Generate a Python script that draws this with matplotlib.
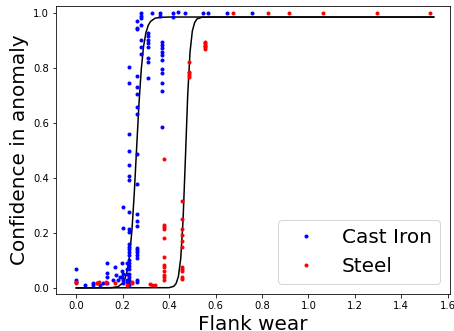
import matplotlib
matplotlib.use("Agg")
import matplotlib.pyplot as plt

# cast iron samples: flank wear vs anomaly confidence
ci_wear = [0.0, 0.0, 0.0, 0.037, 0.072, 0.072, 0.088, 0.102, 0.116,
           0.131, 0.131, 0.131, 0.131, 0.159, 0.167, 0.171, 0.181, 0.188,
           0.196, 0.196, 0.196, 0.2, 0.2, 0.203, 0.203, 0.203,
           0.217, 0.217, 0.217, 0.217, 0.217,
           0.228, 0.228, 0.228, 0.228, 0.228, 0.228, 0.228, 0.228, 0.228,
           0.228, 0.228, 0.228, 0.228, 0.228, 0.228, 0.228, 0.228, 0.228,
           0.228, 0.228, 0.228, 0.228, 0.228, 0.228,
           0.26, 0.26, 0.26, 0.26, 0.26, 0.26, 0.26, 0.26, 0.26, 0.26,
           0.26, 0.26, 0.26, 0.26, 0.26, 0.26, 0.26, 0.26, 0.26, 0.26,
           0.279, 0.279, 0.279, 0.279, 0.279, 0.279, 0.279,
           0.31, 0.31, 0.31, 0.31, 0.31, 0.31, 0.31, 0.31,
           0.328, 0.361, 0.361,
           0.368, 0.368, 0.368, 0.368, 0.368, 0.368, 0.368, 0.368, 0.368,
           0.368, 0.368,
           0.418, 0.418, 0.44, 0.469, 0.546, 0.569, 0.648, 0.756]
ci_conf = [0.07, 0.029, 0.02, 0.011, 0.011, 0.017, 0.017, 0.012, 0.017,
           0.092, 0.053, 0.041, 0.017, 0.029, 0.077, 0.047, 0.029, 0.041,
           0.092, 0.063, 0.04, 0.296, 0.217, 0.05, 0.03, 0.017,
           0.09, 0.07, 0.05, 0.03, 0.02,
           0.803, 0.745, 0.56, 0.499, 0.447, 0.407, 0.393, 0.275, 0.213,
           0.204, 0.16, 0.15, 0.14, 0.13, 0.12, 0.1, 0.09, 0.08,
           0.07, 0.05, 0.04, 0.03, 0.02, 0.01,
           0.971, 0.945, 0.94, 0.771, 0.73, 0.704, 0.657, 0.633, 0.486,
           0.378, 0.268, 0.244, 0.227, 0.145, 0.138, 0.13, 0.12, 0.11,
           0.03, 0.02,
           1.0, 0.989, 0.982, 0.956, 0.9, 0.875, 0.851,
           0.927, 0.916, 0.902, 0.891, 0.876, 0.836, 0.822, 0.765,
           1.0, 1.0, 0.989,
           0.895, 0.884, 0.873, 0.858, 0.847, 0.827, 0.796, 0.783, 0.745,
           0.716, 0.584,
           1.0, 0.984, 1.005, 1.0, 1.0, 1.0, 1.0, 1.0]

# steel samples
st_wear = [0.0, 0.0, 0.088, 0.1, 0.127, 0.127, 0.167, 0.217, 0.239, 0.239,
           0.318, 0.328, 0.339,
           0.378, 0.378, 0.378, 0.378, 0.378, 0.378, 0.378, 0.378, 0.378,
           0.378, 0.378, 0.378,
           0.457, 0.457, 0.457, 0.457, 0.457, 0.457, 0.457, 0.457, 0.457,
           0.457, 0.457,
           0.487, 0.487, 0.487, 0.487, 0.487,
           0.556, 0.556, 0.556, 0.556, 0.556, 0.556,
           0.677, 0.828, 0.917, 1.065, 1.295, 1.522]
st_conf = [0.023, 0.017, 0.017, 0.023, 0.017, 0.023, 0.017, 0.011, 0.017, 0.023,
           0.013, 0.011, 0.011,
           0.468, 0.229, 0.22, 0.213, 0.18, 0.111, 0.082, 0.076, 0.06,
           0.047, 0.038, 0.029,
           0.316, 0.251, 0.213, 0.193, 0.171, 0.15, 0.077, 0.069, 0.063,
           0.039, 0.032,
           0.823, 0.786, 0.78, 0.775, 0.767,
           0.896, 0.89, 0.885, 0.88, 0.875, 0.869,
           1.0, 1.0, 1.0, 1.0, 1.0, 1.0]

# fitted sigmoid curves, sampled
ci_fit_x = [0.0, 0.15, 0.18, 0.20, 0.21, 0.22, 0.23, 0.24, 0.25, 0.26,
            0.27, 0.28, 0.29, 0.30, 0.31, 0.32, 0.34, 0.37, 0.40, 1.54]
ci_fit_y = [0.0, 0.001, 0.0045, 0.018, 0.034, 0.065, 0.12, 0.213, 0.347, 0.509,
            0.669, 0.795, 0.879, 0.928, 0.955, 0.969, 0.981, 0.984, 0.985, 0.985]
st_fit_x = [0.0, 0.40, 0.42, 0.43, 0.44, 0.45, 0.46, 0.47, 0.48, 0.49,
            0.50, 0.51, 0.52, 0.54, 0.57, 1.54]
st_fit_y = [0.0, 0.001, 0.006, 0.016, 0.042, 0.107, 0.246, 0.468, 0.70, 0.857,
            0.934, 0.965, 0.978, 0.984, 0.985, 0.985]

fig = plt.figure(figsize=(454/72, 331/72), dpi=72)
ax = fig.add_axes([0.1233, 0.1118, 0.8678, 0.870])

ax.plot(ci_fit_x, ci_fit_y, 'k-', lw=1.5)
ax.plot(ci_wear, ci_conf, 'b.', label='Cast Iron')
ax.plot(st_fit_x, st_fit_y, 'k-', lw=1.5)
ax.plot(st_wear, st_conf, 'r.', label='Steel')

ax.set_xlim(-0.0875, 1.61)
ax.set_ylim(-0.022, 1.025)
ax.set_xticks([0.0, 0.2, 0.4, 0.6, 0.8, 1.0, 1.2, 1.4, 1.6])
ax.set_yticks([0.0, 0.2, 0.4, 0.6, 0.8, 1.0])
ax.set_xlabel('Flank wear', fontsize=20)
ax.set_ylabel('Confidence in anomaly', fontsize=20)
ax.legend(loc='lower right', fontsize=20)

fig.savefig('out.png', dpi=72)
